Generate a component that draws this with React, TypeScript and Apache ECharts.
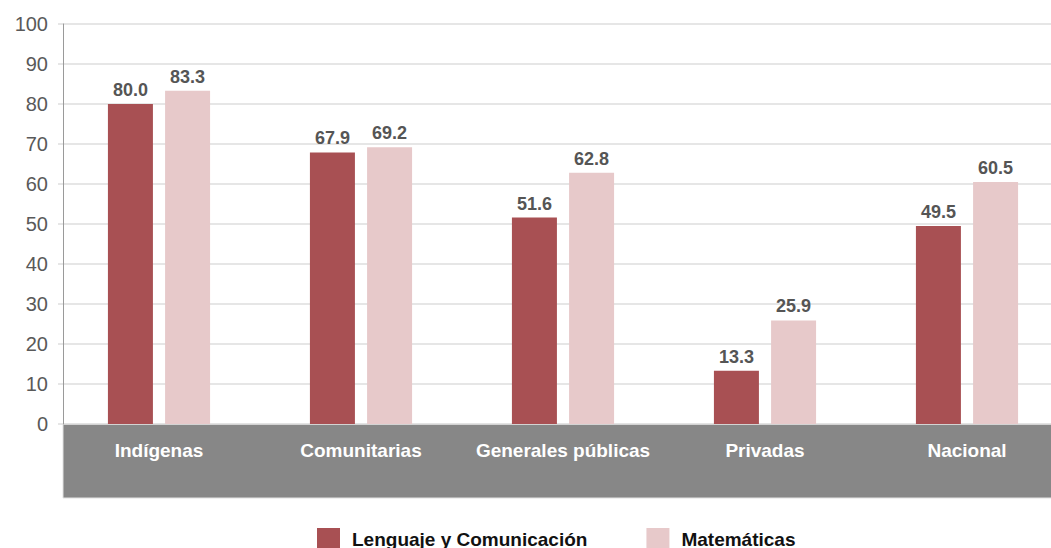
import React, { useEffect, useRef } from "react";
import * as echarts from "echarts";

const categories = ["Indígenas", "Comunitarias", "Generales públicas", "Privadas", "Nacional"];
const lenguaje = [80.0, 67.9, 51.6, 13.3, 49.5];
const matematicas = [83.3, 69.2, 62.8, 25.9, 60.5];
const seriesNames = ["Lenguaje y Comunicación", "Matemáticas"];
const yTicks = { min: 0, max: 100, interval: 10 };

const FONT = "'Liberation Sans', Arial, sans-serif";

export default function App() {
  const ref = useRef<HTMLDivElement>(null);
  useEffect(() => {
    if (!ref.current) return;
    const chart = echarts.init(ref.current, null, { renderer: "svg" });
    const labelStyle = {
      show: true,
      position: "top" as const,
      distance: 5,
      color: "#555555",
      fontWeight: "bold" as const,
      fontSize: 18,
      fontFamily: FONT,
      formatter: (p: any) => Number(p.value).toFixed(1),
    };
    chart.setOption({
      animation: false,
      backgroundColor: "#ffffff",
      textStyle: { fontFamily: FONT },
      grid: { left: 58, top: 24, right: 2, height: 400, containLabel: false },
      graphic: [
        {
          type: "rect",
          z: -10,
          shape: { x: 63, y: 424, width: 1000, height: 74 },
          style: { fill: "#878787", stroke: "#e2e2e2", lineWidth: 1 },
        },
      ],
      legend: {
        left: 312,
        top: 523,
        itemWidth: 23,
        itemHeight: 22,
        itemGap: 59,
        icon: "rect",
        data: seriesNames,
        textStyle: {
          color: "#111111",
          fontWeight: "bold",
          fontSize: 19,
          lineHeight: 22,
          fontFamily: FONT,
          padding: [0, 0, 0, 7],
        },
      },
      xAxis: {
        type: "category",
        data: categories,
        z: 10,
        axisLine: { show: false },
        axisTick: { show: false },
        axisLabel: {
          color: "#ffffff",
          fontWeight: "bold",
          fontSize: 19,
          fontFamily: FONT,
          margin: 17,
          interval: 0,
        },
        splitLine: { show: false },
      },
      yAxis: {
        type: "value",
        min: yTicks.min,
        max: yTicks.max,
        interval: yTicks.interval,
        offset: -5,
        axisLine: { show: true, lineStyle: { color: "#9a9a9a", width: 1 } },
        axisTick: { show: false },
        axisLabel: { color: "#595959", fontSize: 20, fontFamily: FONT, margin: 15 },
        splitLine: { show: true, lineStyle: { color: "#dedede", width: 1.5 } },
      },
      series: [
        {
          name: seriesNames[0],
          type: "bar",
          data: lenguaje,
          barWidth: 45,
          barGap: "27%",
          itemStyle: { color: "#A85053" },
          label: labelStyle,
        },
        {
          name: seriesNames[1],
          type: "bar",
          data: matematicas,
          barWidth: 45,
          itemStyle: { color: "#E7C9CA" },
          label: labelStyle,
        },
      ],
    });
    return () => chart.dispose();
  }, []);
  return (
    <div style={{ position: "absolute", left: 0, top: 0, width: 1051, height: 548, overflow: "hidden" }}>
      <div ref={ref} style={{ width: 1070, height: 548 }} />
    </div>
  );
}
